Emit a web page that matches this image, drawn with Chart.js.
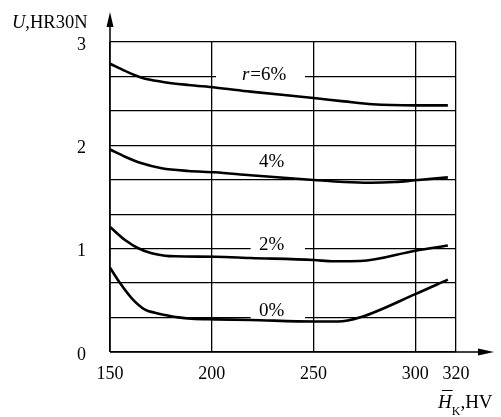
<!DOCTYPE html>
<html>
<head>
<meta charset="utf-8">
<script src="https://cdn.jsdelivr.net/npm/chart.js@4"></script>
<style>
  html, body { margin: 0; padding: 0; background: #fff; }
  #wrap { width: 501px; height: 417px; }
</style>
</head>
<body>
<div id="wrap"><canvas id="c" width="501" height="417"></canvas></div>
<script>
// --- DATA ---
const xTicks = [150, 200, 250, 300, 320];
const yTicks = [0, 1/3, 2/3, 1, 4/3, 5/3, 2, 7/3, 8/3, 3];

const hv6 = [150, 157.4, 165.6, 175.4, 188.5, 201.6, 219, 250, 265, 279, 300, 316];
const u6  = [2.79, 2.72, 2.655, 2.616, 2.584, 2.56, 2.52, 2.458, 2.425, 2.397, 2.387, 2.387];
const hv4 = [150, 157.4, 165.6, 175.4, 188.5, 201.6, 219, 250, 265, 278, 290, 300, 316];
const u4  = [1.96, 1.89, 1.826, 1.778, 1.752, 1.739, 1.71, 1.665, 1.645, 1.638, 1.645, 1.662, 1.69];
const hv2 = [150, 157.4, 163.9, 170.5, 177, 182, 201.6, 219, 250, 260, 273, 300, 316];
const u2  = [1.21, 1.084, 1.004, 0.955, 0.932, 0.926, 0.922, 0.91, 0.89, 0.878, 0.88, 0.98, 1.03];
const hv0 = [150, 155, 160.7, 167.2, 172, 177, 183.5, 190, 201.6, 219, 250, 262, 273, 300, 316];
const u0  = [0.816, 0.665, 0.52, 0.41, 0.38, 0.358, 0.335, 0.322, 0.316, 0.31, 0.295, 0.295, 0.336, 0.56, 0.70];

const curveLabels = ['r=6%', '4%', '2%', '0%'];

const FONT = "'Liberation Serif', 'DejaVu Serif', serif";
const pts = (xs, ys) => xs.map((x, i) => ({ x, y: ys[i] }));

// curve labels (data coords, left/baseline) with the grid gaps behind them
const labelSpots = [
  { text: curveLabels[0], x: 214.8, y: 2.632, gap: { y: 8/3, x0: 202.1, x1: 245.8 } },
  { text: curveLabels[1], x: 223.2, y: 1.79 },
  { text: curveLabels[2], x: 223.2, y: 0.987, gap: { y: 1, x0: 219.1, x1: 245.8 } },
  { text: curveLabels[3], x: 223.2, y: 0.351, gap: { y: 1/3, x0: 219.1, x1: 245.8 } }
];

const decor = {
  id: 'decor',
  beforeDatasetsDraw(chart) {
    const { ctx, scales: { x, y } } = chart;
    ctx.save();
    ctx.fillStyle = '#fff';
    labelSpots.forEach(s => {
      if (!s.gap) return;
      const py = y.getPixelForValue(s.gap.y);
      const x0 = x.getPixelForValue(s.gap.x0), x1 = x.getPixelForValue(s.gap.x1);
      ctx.fillRect(x0, py - 2, x1 - x0, 4);
    });
    ctx.restore();
  },
  afterDraw(chart) {
    const { ctx, scales: { x, y } } = chart;
    const x0 = x.getPixelForValue(150), y0 = y.getPixelForValue(0);
    ctx.save();
    ctx.strokeStyle = '#000';
    ctx.fillStyle = '#000';
    ctx.lineWidth = 1.5;
    // axes with arrows
    ctx.beginPath();
    ctx.moveTo(x0, y0); ctx.lineTo(x0, 18);
    ctx.moveTo(x0, y0); ctx.lineTo(485, y0);
    ctx.stroke();
    ctx.beginPath();
    ctx.moveTo(x0, 12); ctx.lineTo(x0 - 3.5, 27); ctx.lineTo(x0 + 3.5, 27); ctx.closePath();
    ctx.fill();
    ctx.beginPath();
    ctx.moveTo(494, y0); ctx.lineTo(478, y0 - 3.5); ctx.lineTo(478, y0 + 3.5); ctx.closePath();
    ctx.fill();

    ctx.textBaseline = 'alphabetic';
    ctx.textAlign = 'left';
    // curve labels
    labelSpots.forEach(s => {
      const px = x.getPixelForValue(s.x), py = y.getPixelForValue(s.y);
      if (s.text.startsWith('r')) {
        ctx.font = 'italic 19px ' + FONT;
        ctx.fillText('r', px, py);
        const w = ctx.measureText('r').width;
        ctx.font = '19px ' + FONT;
        ctx.fillText(s.text.slice(1), px + w + 1, py);
      } else {
        ctx.font = '19px ' + FONT;
        ctx.fillText(s.text, px, py);
      }
    });

    // y axis title
    ctx.font = 'italic 18.5px ' + FONT;
    ctx.fillText('U', 12, 28);
    let w = ctx.measureText('U').width;
    ctx.font = '18.5px ' + FONT;
    ctx.fillText(',HR30N', 12 + w, 28);

    // x axis title
    ctx.font = 'italic 19px ' + FONT;
    ctx.fillText('H', 438, 408);
    w = ctx.measureText('H').width;
    ctx.lineWidth = 1;
    ctx.beginPath(); ctx.moveTo(442, 390.5); ctx.lineTo(438 + w + 1, 390.5); ctx.stroke();
    ctx.font = '12px ' + FONT;
    ctx.fillText('K', 438 + w, 415);
    const wk = ctx.measureText('K').width;
    ctx.font = '19px ' + FONT;
    ctx.fillText(',HV', 438 + w + wk, 408);
    ctx.restore();
  }
};

const lineDs = (data) => ({
  data, borderColor: '#000', borderWidth: 2.6, pointRadius: 0,
  cubicInterpolationMode: 'monotone', fill: false
});

new Chart(document.getElementById('c'), {
  type: 'line',
  data: {
    datasets: [lineDs(pts(hv6, u6)), lineDs(pts(hv4, u4)), lineDs(pts(hv2, u2)), lineDs(pts(hv0, u0))]
  },
  options: {
    responsive: false, animation: false,
    layout: { padding: { top: 42, right: 45, left: 0, bottom: 0 } },
    plugins: { legend: { display: false }, tooltip: { enabled: false } },
    scales: {
      x: {
        type: 'linear', min: 150, max: 320,
        afterBuildTicks: s => { s.ticks = xTicks.map(v => ({ value: v })); },
        afterFit: s => { s.height = 65; },
        grid: { color: '#000', lineWidth: 1.3, drawTicks: false },
        border: { display: false },
        ticks: { color: '#000', font: { family: FONT, size: 18 }, padding: 11, maxRotation: 0,
          callback: v => String(v) }
      },
      y: {
        type: 'linear', min: 0, max: 3,
        afterBuildTicks: s => { s.ticks = yTicks.map(v => ({ value: v })); },
        afterFit: s => { s.width = 110; },
        grid: { color: '#000', lineWidth: 1.3, drawTicks: false },
        border: { display: false },
        ticks: { color: '#000', font: { family: FONT, size: 18 }, padding: 24, labelOffset: 3,
          callback: v => Math.abs(v - Math.round(v)) < 1e-6 ? String(Math.round(v)) : '' }
      }
    }
  },
  plugins: [decor]
});
</script>
</body>
</html>
